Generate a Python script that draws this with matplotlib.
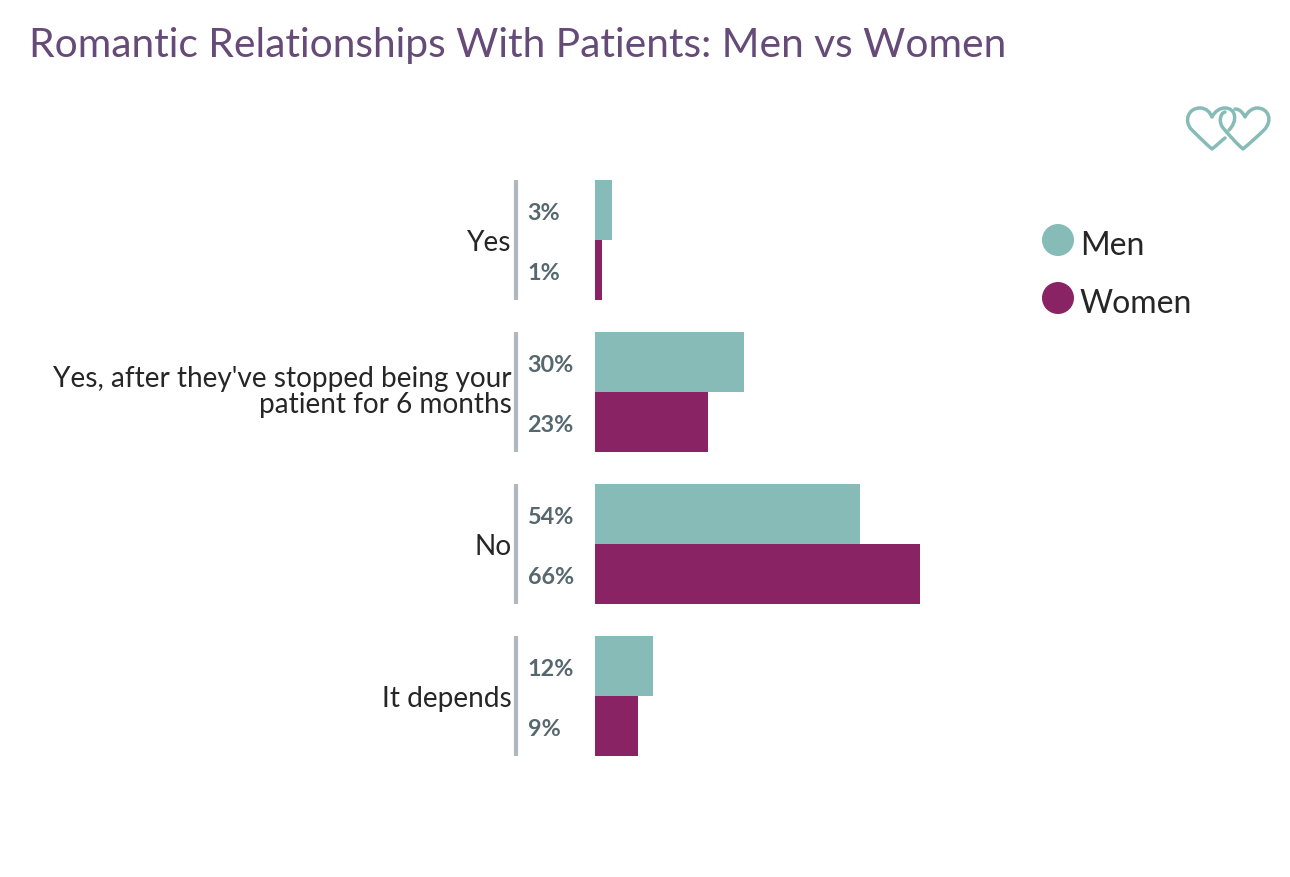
import matplotlib
matplotlib.use('Agg')
import matplotlib.pyplot as plt
from matplotlib.patches import Circle, PathPatch
from matplotlib.path import Path

categories = ['Yes', "Yes, after they've stopped being your\npatient for 6 months", 'No', 'It depends']
# bar lengths as measured, the printed labels are rounded
men = [3.4, 30.3, 53.9, 11.8]
women = [1.4, 23.0, 66.0, 8.8]
men_labels = ['3%', '30%', '54%', '12%']
women_labels = ['1%', '23%', '66%', '9%']
series_names = ['Men', 'Women']
title = 'Romantic Relationships With Patients: Men vs Women'

TEAL = '#87bbb8'
PLUM = '#8a2363'
W, H = 1290, 878

plt.rcParams['font.family'] = ['Lato', 'DejaVu Sans']

fig = plt.figure(figsize=(W / 100, H / 100), dpi=100)

# axes spans the plot area, in pixels from the top left of the figure
left, right, top, bottom = 595, 920, 165, 773
ax = fig.add_axes([left / W, 1 - bottom / H, (right - left) / W, (bottom - top) / H])
ax.set_xlim(0, 66)
ax.set_ylim(3.5, -0.5)
ax.axis('off')

bar_h = 60 / 152
text_shift = 0.016  # text sits a little low of the bar centres
for i, cat in enumerate(categories):
    ax.barh(i - bar_h / 2, men[i], height=bar_h, color=TEAL, linewidth=0)
    ax.barh(i + bar_h / 2, women[i], height=bar_h, color=PLUM, linewidth=0)

    # grey bracket between the labels and the bars
    ax.plot([-16, -16], [i - bar_h, i + bar_h], color='#b0b8bf', lw=3,
            solid_capstyle='butt', clip_on=False)
    # the wrapped label runs slightly further right and higher than the others
    wrapped = '\n' in cat
    ax.text(-17.0 if not wrapped else -16.9, i + (-0.005 if wrapped else text_shift), cat,
            ha='right', va='center', fontsize=20.2, color='#262626',
            linespacing=1.0, clip_on=False)
    ax.text(-13.7, i - bar_h / 2 + text_shift, men_labels[i], ha='left', va='center', fontsize=16.8,
            color='#56686f', fontweight='bold', clip_on=False)
    ax.text(-13.7, i + bar_h / 2 + text_shift, women_labels[i], ha='left', va='center', fontsize=16.8,
            color='#56686f', fontweight='bold', clip_on=False)

fig.text(29 / W, 1 - 45 / H, title, fontsize=29.3, color='#664a78', ha='left', va='center')

# overlay in pixel coords for legend and hearts
ov = fig.add_axes([0, 0, 1, 1])
ov.set_xlim(0, W)
ov.set_ylim(H, 0)
ov.axis('off')
ov.patch.set_alpha(0)

for name, color, y in zip(series_names, [TEAL, PLUM], [241, 299]):
    ov.add_patch(Circle((1058, y), 16, color=color, lw=0))
    ov.text(1080, y + 5, name, fontsize=23, color='#262626', va='center', ha='left')


def stroke(points):
    # first point is a moveto, the rest come in threes as cubic curves
    codes = [Path.MOVETO] + [Path.CURVE4] * (len(points) - 1)
    ov.add_patch(PathPatch(Path(points, codes), fill=False, edgecolor=TEAL, lw=2.5,
                           capstyle='round', joinstyle='round'))


# the two hearts hook into each other, so each outline is left open
stroke([(1225, 139), (1221, 142), (1216, 147), (1212, 150),
        (1205, 144), (1197, 136), (1191, 130),
        (1184, 122), (1188, 109), (1200, 109),
        (1206, 109), (1210, 113), (1212, 118),
        (1215, 112), (1220, 109), (1225, 109),
        (1236, 109), (1238, 122), (1229, 131)])
stroke([(1235, 110), (1240, 110), (1243, 114), (1245, 118),
        (1248, 112), (1253, 109), (1257, 109),
        (1269, 109), (1273, 122), (1264, 131),
        (1258, 137), (1250, 144), (1243, 150),
        (1236, 144), (1230, 137), (1224, 130),
        (1218, 124), (1220, 114), (1225, 113)])

fig.savefig('out.png', dpi=100)
